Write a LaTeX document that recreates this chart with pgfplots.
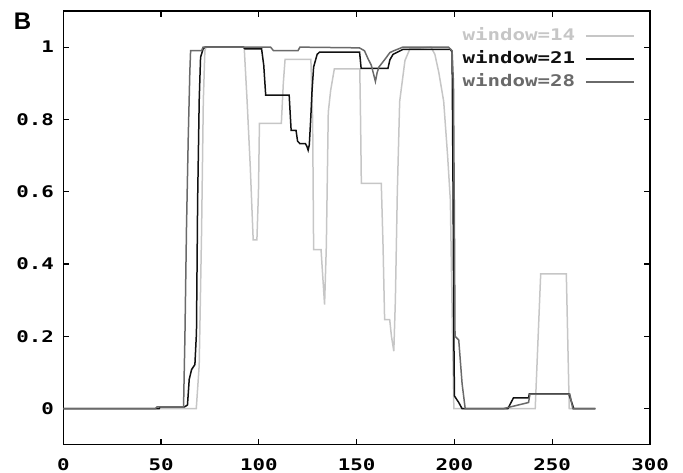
\documentclass[border=0pt]{standalone}
\usepackage{fontspec}
\usepackage{pgfplots}
\pgfplotsset{compat=1.18}
\newfontfamily\gnu{DejaVu Sans Mono}[FakeStretch=1.3]
\newfontfamily\lbl{Liberation Sans}
\definecolor{c14}{HTML}{C6C6C6}
\definecolor{c21}{HTML}{111111}
\definecolor{c28}{HTML}{6A6A6A}

\begin{document}
\begin{tikzpicture}
\begin{axis}[
  name=ax,
  scale only axis,
  width=293.5pt, height=217pt,
  xmin=0, xmax=300, ymin=-0.1, ymax=1.1,
  xtick={0,50,...,300},
  ytick={0,0.2,0.4,0.6,0.8,1},
  tick align=inside,
  major tick length=3pt,
  tick style={black, line width=0.6pt},
  axis line style={line width=0.6pt},
  /pgf/number format/assume math mode=true,
  tick label style={font=\gnu\bfseries\fontsize{8}{9}\selectfont, inner sep=0pt},
  xticklabel style={yshift=-6.5pt},
  yticklabel style={xshift=-4.5pt},
  legend plot pos=right,
  legend cell align=right,
  legend image code/.code={\draw[#1, line width=0.7pt] (0pt,0pt) -- (24pt,0pt);},
  legend style={at={(1,1)}, anchor=north east, xshift=-7.5pt, yshift=-7.6pt,
    draw=none, fill=none, inner sep=0pt, row sep=2pt, column sep=4pt,
    nodes={inner sep=1pt, text height=6pt, text depth=1.5pt,
      font=\gnu\bfseries\fontsize{8}{9}\selectfont}},
]
% window = 14
\addplot[c14, line width=0.75pt] coordinates {
  (0,0) (68,0) (69.5,0.12) (70.7,0.485) (71.6,0.85) (72.4,0.99) (73,1) (92.5,1)
  (94,0.85) (95.6,0.67) (97.1,0.467) (99,0.467) (99.8,0.6) (100.3,0.789)
  (111.5,0.789) (112.5,0.9) (113.4,0.966) (126.6,0.966) (127.5,0.8) (128,0.44)
  (131.8,0.44) (132.5,0.38) (133.6,0.288) (134.5,0.45) (135.5,0.82) (136.7,0.88)
  (138.6,0.94) (151.6,0.94) (152,0.8) (152.4,0.623) (162.6,0.623) (163.5,0.45)
  (164.3,0.246) (166.9,0.246) (167.8,0.2) (169,0.159) (169.8,0.3) (170.8,0.6)
  (172,0.85) (174.7,0.963) (177.2,0.995) (188,1) (190,0.98) (192,0.93)
  (194.5,0.85) (196.5,0.7) (197.9,0.577) (199,0.21) (199.7,0) (241.3,0)
  (244.1,0.373) (257.2,0.373) (258.7,0) (272,0)};
\addlegendentry[text=c14]{window=14}
% window = 21
\addplot[c21, line width=0.75pt] coordinates {
  (0,0) (49,0) (49.5,0.005) (62,0.005) (63.5,0.01) (64.4,0.081) (65.6,0.108)
  (67.3,0.122) (68.1,0.21) (68.7,0.577) (69.5,0.853) (70.2,0.972) (71.5,0.995)
  (72.5,1) (92,1) (93,0.995) (101.4,0.995) (102.5,0.95) (103.5,0.867)
  (115.5,0.867) (116.5,0.77) (119,0.77) (119.8,0.74) (121,0.733) (123.8,0.733)
  (124.6,0.725) (125.2,0.715) (125.8,0.73) (126.5,0.8) (127.2,0.88) (128,0.945)
  (129.8,0.98) (131,0.986) (151.5,0.986) (152.3,0.941) (166,0.941) (167,0.965)
  (168.6,0.98) (173.8,0.994) (198,0.994) (198.8,0.986) (199.3,0.6) (199.7,0.2)
  (200,0.035) (202.2,0.017) (203.9,0) (227.3,0) (230.2,0.03) (237.9,0.03)
  (238.3,0.041) (258.5,0.041) (261,0) (272,0)};
\addlegendentry[text=c21]{window=21}
% window = 28
\addplot[c28, line width=0.75pt] coordinates {
  (0,0) (47,0) (48,0.005) (61.5,0.005) (62.2,0.2) (63,0.5) (63.9,0.75)
  (64.7,0.93) (65.1,0.99) (70.7,0.99) (71.5,1) (106,1) (107.5,0.99) (120,0.99)
  (121,1) (151.4,0.998) (154,0.99) (155.8,0.968) (157.5,0.95) (159.6,0.905)
  (160.5,0.93) (161.4,0.945) (164.7,0.968) (167,0.985) (169,0.99) (173.6,1)
  (197,1) (198.8,0.99) (199.5,0.9) (200,0.5) (200.3,0.2) (202.2,0.19)
  (203.9,0.07) (205.5,0) (225,0) (237.9,0.017) (238.6,0.04) (259,0.04)
  (260.5,0) (272,0)};
\addlegendentry[text=c28]{window=28}
\end{axis}
\node[font=\lbl\bfseries\fontsize{12}{12}\selectfont, inner sep=0pt]
  at ([shift={(-20.4pt,-5.25pt)}]ax.north west) {B};
\pgfresetboundingbox
\path[use as bounding box] ([shift={(-31.65pt,-14pt)}]ax.south west)
  rectangle ([shift={(16.5pt,5.5pt)}]ax.north east);
\end{tikzpicture}
\end{document}
